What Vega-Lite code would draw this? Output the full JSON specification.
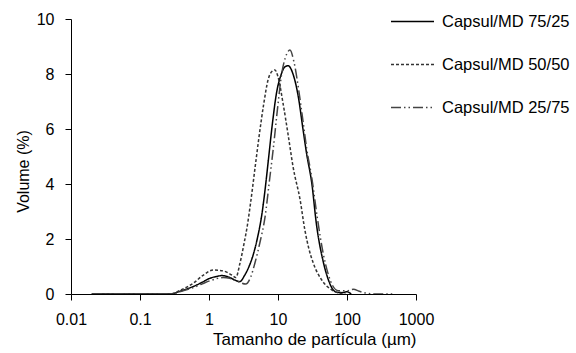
{
  "$schema": "https://vega.github.io/schema/vega-lite/v6.json",
  "width": 345,
  "height": 275,
  "autosize": {"type": "none"},
  "padding": {"left": 71, "top": 19, "right": 160, "bottom": 59},
  "background": "white",
  "config": {
    "view": {"stroke": null},
    "font": "Liberation Sans",
    "axis": {"grid": false, "domainColor": "#000", "tickColor": "#000", "labelColor": "#000", "titleColor": "#000", "labelFontSize": 16, "titleFontSize": 16, "titleFontWeight": "normal", "labelFont": "Liberation Sans", "titleFont": "Liberation Sans", "tickSize": 6, "domainWidth": 1}
  },
  "data": {"values": [
    {"s": "Capsul/MD 75/25", "x": 0.02, "y": 0},
    {"s": "Capsul/MD 75/25", "x": 0.27, "y": 0},
    {"s": "Capsul/MD 75/25", "x": 0.4, "y": 0.12},
    {"s": "Capsul/MD 75/25", "x": 0.6, "y": 0.28},
    {"s": "Capsul/MD 75/25", "x": 0.8, "y": 0.43},
    {"s": "Capsul/MD 75/25", "x": 1.0, "y": 0.56},
    {"s": "Capsul/MD 75/25", "x": 1.3, "y": 0.64},
    {"s": "Capsul/MD 75/25", "x": 1.55, "y": 0.67},
    {"s": "Capsul/MD 75/25", "x": 2.0, "y": 0.6},
    {"s": "Capsul/MD 75/25", "x": 2.4, "y": 0.5},
    {"s": "Capsul/MD 75/25", "x": 2.8, "y": 0.45},
    {"s": "Capsul/MD 75/25", "x": 3.3, "y": 0.69},
    {"s": "Capsul/MD 75/25", "x": 3.8, "y": 1.0},
    {"s": "Capsul/MD 75/25", "x": 4.4, "y": 1.45},
    {"s": "Capsul/MD 75/25", "x": 5.1, "y": 2.1},
    {"s": "Capsul/MD 75/25", "x": 5.8, "y": 2.85},
    {"s": "Capsul/MD 75/25", "x": 6.5, "y": 3.8},
    {"s": "Capsul/MD 75/25", "x": 7.2, "y": 4.8},
    {"s": "Capsul/MD 75/25", "x": 8.3, "y": 6.2},
    {"s": "Capsul/MD 75/25", "x": 9.5, "y": 7.3},
    {"s": "Capsul/MD 75/25", "x": 11, "y": 7.95},
    {"s": "Capsul/MD 75/25", "x": 12.5, "y": 8.25},
    {"s": "Capsul/MD 75/25", "x": 14, "y": 8.3},
    {"s": "Capsul/MD 75/25", "x": 16.5, "y": 8.0},
    {"s": "Capsul/MD 75/25", "x": 19.7, "y": 7.17},
    {"s": "Capsul/MD 75/25", "x": 23, "y": 6.0},
    {"s": "Capsul/MD 75/25", "x": 26, "y": 5.1},
    {"s": "Capsul/MD 75/25", "x": 31, "y": 4.0},
    {"s": "Capsul/MD 75/25", "x": 36, "y": 2.55},
    {"s": "Capsul/MD 75/25", "x": 45, "y": 1.2},
    {"s": "Capsul/MD 75/25", "x": 54, "y": 0.5},
    {"s": "Capsul/MD 75/25", "x": 63, "y": 0.15},
    {"s": "Capsul/MD 75/25", "x": 72, "y": 0.06},
    {"s": "Capsul/MD 75/25", "x": 85, "y": 0.05},
    {"s": "Capsul/MD 75/25", "x": 100, "y": 0.08},
    {"s": "Capsul/MD 75/25", "x": 115, "y": 0},
    {"s": "Capsul/MD 50/50", "x": 0.02, "y": 0},
    {"s": "Capsul/MD 50/50", "x": 0.27, "y": 0},
    {"s": "Capsul/MD 50/50", "x": 0.4, "y": 0.16},
    {"s": "Capsul/MD 50/50", "x": 0.59, "y": 0.39},
    {"s": "Capsul/MD 50/50", "x": 0.83, "y": 0.69},
    {"s": "Capsul/MD 50/50", "x": 1.15, "y": 0.87},
    {"s": "Capsul/MD 50/50", "x": 1.6, "y": 0.84},
    {"s": "Capsul/MD 50/50", "x": 2.13, "y": 0.69},
    {"s": "Capsul/MD 50/50", "x": 2.45, "y": 0.6},
    {"s": "Capsul/MD 50/50", "x": 2.8, "y": 1.1},
    {"s": "Capsul/MD 50/50", "x": 3.2, "y": 1.8},
    {"s": "Capsul/MD 50/50", "x": 3.6, "y": 2.5},
    {"s": "Capsul/MD 50/50", "x": 4.0, "y": 3.3},
    {"s": "Capsul/MD 50/50", "x": 4.6, "y": 4.5},
    {"s": "Capsul/MD 50/50", "x": 5.3, "y": 5.7},
    {"s": "Capsul/MD 50/50", "x": 6.2, "y": 6.9},
    {"s": "Capsul/MD 50/50", "x": 7.2, "y": 7.8},
    {"s": "Capsul/MD 50/50", "x": 8.2, "y": 8.1},
    {"s": "Capsul/MD 50/50", "x": 9.0, "y": 8.15},
    {"s": "Capsul/MD 50/50", "x": 10.0, "y": 7.9},
    {"s": "Capsul/MD 50/50", "x": 11.9, "y": 6.9},
    {"s": "Capsul/MD 50/50", "x": 14, "y": 5.8},
    {"s": "Capsul/MD 50/50", "x": 16.6, "y": 4.6},
    {"s": "Capsul/MD 50/50", "x": 21, "y": 3.4},
    {"s": "Capsul/MD 50/50", "x": 24.5, "y": 2.33},
    {"s": "Capsul/MD 50/50", "x": 28, "y": 1.65},
    {"s": "Capsul/MD 50/50", "x": 32.5, "y": 1.12},
    {"s": "Capsul/MD 50/50", "x": 43, "y": 0.51},
    {"s": "Capsul/MD 50/50", "x": 60, "y": 0.15},
    {"s": "Capsul/MD 50/50", "x": 75, "y": 0.04},
    {"s": "Capsul/MD 50/50", "x": 95, "y": 0},
    {"s": "Capsul/MD 25/75", "x": 0.02, "y": 0},
    {"s": "Capsul/MD 25/75", "x": 0.27, "y": 0},
    {"s": "Capsul/MD 25/75", "x": 0.4, "y": 0.1},
    {"s": "Capsul/MD 25/75", "x": 0.6, "y": 0.24},
    {"s": "Capsul/MD 25/75", "x": 0.8, "y": 0.37},
    {"s": "Capsul/MD 25/75", "x": 1.03, "y": 0.48},
    {"s": "Capsul/MD 25/75", "x": 1.3, "y": 0.56},
    {"s": "Capsul/MD 25/75", "x": 1.6, "y": 0.6},
    {"s": "Capsul/MD 25/75", "x": 2.0, "y": 0.57},
    {"s": "Capsul/MD 25/75", "x": 2.6, "y": 0.46},
    {"s": "Capsul/MD 25/75", "x": 3.4, "y": 0.36},
    {"s": "Capsul/MD 25/75", "x": 4.0, "y": 0.6},
    {"s": "Capsul/MD 25/75", "x": 4.6, "y": 1.1},
    {"s": "Capsul/MD 25/75", "x": 5.5, "y": 1.9},
    {"s": "Capsul/MD 25/75", "x": 6.5, "y": 2.81},
    {"s": "Capsul/MD 25/75", "x": 7.5, "y": 4.1},
    {"s": "Capsul/MD 25/75", "x": 8.5, "y": 5.24},
    {"s": "Capsul/MD 25/75", "x": 10, "y": 6.9},
    {"s": "Capsul/MD 25/75", "x": 11.3, "y": 8.0},
    {"s": "Capsul/MD 25/75", "x": 12.8, "y": 8.6},
    {"s": "Capsul/MD 25/75", "x": 14.9, "y": 8.87},
    {"s": "Capsul/MD 25/75", "x": 17, "y": 8.45},
    {"s": "Capsul/MD 25/75", "x": 20, "y": 7.4},
    {"s": "Capsul/MD 25/75", "x": 23, "y": 6.3},
    {"s": "Capsul/MD 25/75", "x": 26, "y": 5.3},
    {"s": "Capsul/MD 25/75", "x": 31, "y": 4.2},
    {"s": "Capsul/MD 25/75", "x": 37, "y": 2.8},
    {"s": "Capsul/MD 25/75", "x": 45, "y": 1.5},
    {"s": "Capsul/MD 25/75", "x": 53, "y": 0.75},
    {"s": "Capsul/MD 25/75", "x": 62, "y": 0.3},
    {"s": "Capsul/MD 25/75", "x": 75, "y": 0.12},
    {"s": "Capsul/MD 25/75", "x": 100, "y": 0.12},
    {"s": "Capsul/MD 25/75", "x": 124, "y": 0.17},
    {"s": "Capsul/MD 25/75", "x": 150, "y": 0.1},
    {"s": "Capsul/MD 25/75", "x": 190, "y": 0.03},
    {"s": "Capsul/MD 25/75", "x": 250, "y": 0},
    {"s": "Capsul/MD 25/75", "x": 500, "y": 0}
  ]},
  "mark": {"type": "line", "interpolate": "monotone", "strokeWidth": 1.5, "clip": true},
  "encoding": {
    "x": {"field": "x", "type": "quantitative", "scale": {"type": "log", "domain": [0.01, 1000], "nice": false},
      "axis": {"values": [0.01, 0.1, 1, 10, 100, 1000], "labelExpr": "format(datum.value, '~g')", "title": "Tamanho de partícula (µm)", "titleFontSize": 17, "titleAnchor": "end", "labelPadding": 11, "titlePadding": 4, "labelFlush": false}},
    "y": {"field": "y", "type": "quantitative", "scale": {"domain": [0, 10], "nice": false},
      "axis": {"values": [0, 2, 4, 6, 8, 10], "title": "Volume (%)", "labelPadding": 11, "titleX": -40, "titleY": 152}},
    "color": {"field": "s", "type": "nominal", "sort": ["Capsul/MD 75/25", "Capsul/MD 50/50", "Capsul/MD 25/75"],
      "scale": {"domain": ["Capsul/MD 75/25", "Capsul/MD 50/50", "Capsul/MD 25/75"], "range": ["#000000", "#333333", "#444444"]},
      "legend": {"title": null, "orient": "none", "legendX": 319, "legendY": -20, "symbolType": "stroke", "symbolSize": 1849, "symbolStrokeWidth": 1.5, "labelFontSize": 16.5, "labelFont": "Liberation Sans", "labelColor": "#000", "labelOffset": 7, "rowPadding": 12}},
    "strokeDash": {"field": "s", "type": "nominal", "sort": ["Capsul/MD 75/25", "Capsul/MD 50/50", "Capsul/MD 25/75"],
      "scale": {"domain": ["Capsul/MD 75/25", "Capsul/MD 50/50", "Capsul/MD 25/75"], "range": [[1, 0], [3, 2], [10, 3, 1.5, 3, 1.5, 3]]}}
  }
}
